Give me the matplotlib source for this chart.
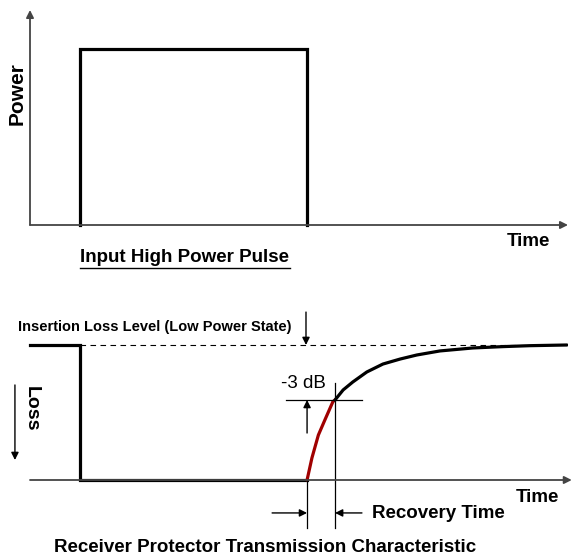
import matplotlib.pyplot as plt

plt.rcParams['font.family'] = ['Liberation Sans', 'DejaVu Sans']

# pulse (top) - time in % of axis, power relative
pulse_t = [9.3, 9.3, 51.5, 51.5]
pulse_p = [0, 1, 1, 0]

# receiver protector transmission (bottom), level 1 = insertion loss level
drop_t = [0, 9.3, 9.3, 51.5]
drop_l = [1, 1, 0, 0]
red_t = [51.5, 52.4, 53.6, 54.8, 56.3, 56.7]
red_l = [0, 0.163, 0.333, 0.444, 0.58, 0.593]
rec_t = [56.7, 58.2, 60.0, 62.6, 65.6, 68.8, 71.9, 76.2, 82.3, 87.9, 92.9, 99.8]
rec_l = [0.593, 0.667, 0.726, 0.80, 0.859, 0.896, 0.926, 0.956, 0.978, 0.988, 0.995, 1.0]

W, H = 574, 556
fig = plt.figure(figsize=(W / 100, H / 100), dpi=100)


def ftext(x, y, s, **kw):
    fig.text(x / W, 1 - y / H, s, ha='center', va='center', **kw)


arr = dict(arrowstyle='-|>', mutation_scale=11, lw=1.0, color='black', shrinkA=0, shrinkB=0)
axarr = dict(arrowstyle='-|>', mutation_scale=11, lw=1.3, color='#444444', shrinkA=0, shrinkB=0)

# ---- top panel
ax1 = fig.add_axes([30 / W, 1 - 225 / H, 538 / W, 215 / H])
ax1.set_xlim(0, 100)
ax1.set_ylim(0, 215 / 176)
ax1.axis('off')
ax1.annotate('', xy=(0, 215 / 176), xytext=(0, 0), arrowprops=axarr, annotation_clip=False)
ax1.annotate('', xy=(100, 0), xytext=(0, 0), arrowprops=axarr, annotation_clip=False)
ax1.plot(pulse_t, pulse_p, color='black', lw=2.3, solid_joinstyle='miter', clip_on=False)

ftext(17, 94, 'Power', rotation=90, fontsize=15, fontweight='bold')
ftext(528, 242, 'Time', fontsize=13.5, fontweight='bold')
ftext(185, 258, 'Input High Power Pulse', fontsize=13.5, fontweight='bold')
fig.add_artist(plt.Line2D([80 / W, 290 / W], [1 - 268 / H, 1 - 268 / H], color='black', lw=1.0))

# ---- bottom panel
ax2 = fig.add_axes([30 / W, 0, 538 / W, 256 / H])
ax2.set_xlim(0, 100)
ax2.set_ylim(-76 / 135, 180 / 135)
ax2.axis('off')
ax2.annotate('', xy=(100.7, 0), xytext=(0, 0), arrowprops=axarr, annotation_clip=False)
ax2.plot([9.3, 93], [1, 1], color='black', lw=0.8, dashes=(5, 4))
ax2.plot(drop_t, drop_l, color='black', lw=2.3, solid_joinstyle='miter', clip_on=False)
ax2.plot(red_t, red_l, color='#a00000', lw=2.3, solid_capstyle='round')
ax2.plot(rec_t, rec_l, color='black', lw=2.3, solid_capstyle='round')

# loss arrow
ax2.annotate('', xy=(-2.8, 0.148), xytext=(-2.8, 0.704), arrowprops=arr, annotation_clip=False)
# insertion loss arrow
ax2.annotate('', xy=(51.3, 1.0), xytext=(51.3, 1.244), arrowprops=arr)
# -3 dB marker
ax2.plot([47.6, 61.7], [0.593, 0.593], color='black', lw=0.9)
ax2.annotate('', xy=(51.5, 0.593), xytext=(51.5, 0.348), arrowprops=arr)
# recovery time markers
ax2.plot([51.5, 51.5], [0, -0.356], color='black', lw=0.9)
ax2.plot([56.7, 56.7], [0.719, -0.356], color='black', lw=0.9)
ax2.annotate('', xy=(51.5, -0.244), xytext=(45.0, -0.244), arrowprops=arr)
ax2.annotate('', xy=(56.7, -0.244), xytext=(61.7, -0.244), arrowprops=arr)

ftext(155, 327, 'Insertion Loss Level (Low Power State)', fontsize=10.5, fontweight='bold')
ftext(31, 409, 'Loss', rotation=-90, fontsize=14, fontweight='bold')
ftext(303, 384, '-3 dB', fontsize=13.5)
ftext(537, 498, 'Time', fontsize=13.5, fontweight='bold')
ftext(438, 513, 'Recovery Time', fontsize=13.5, fontweight='bold')
ftext(265, 547, 'Receiver Protector Transmission Characteristic', fontsize=13.5, fontweight='bold')

fig.savefig('out.png', dpi=100)
